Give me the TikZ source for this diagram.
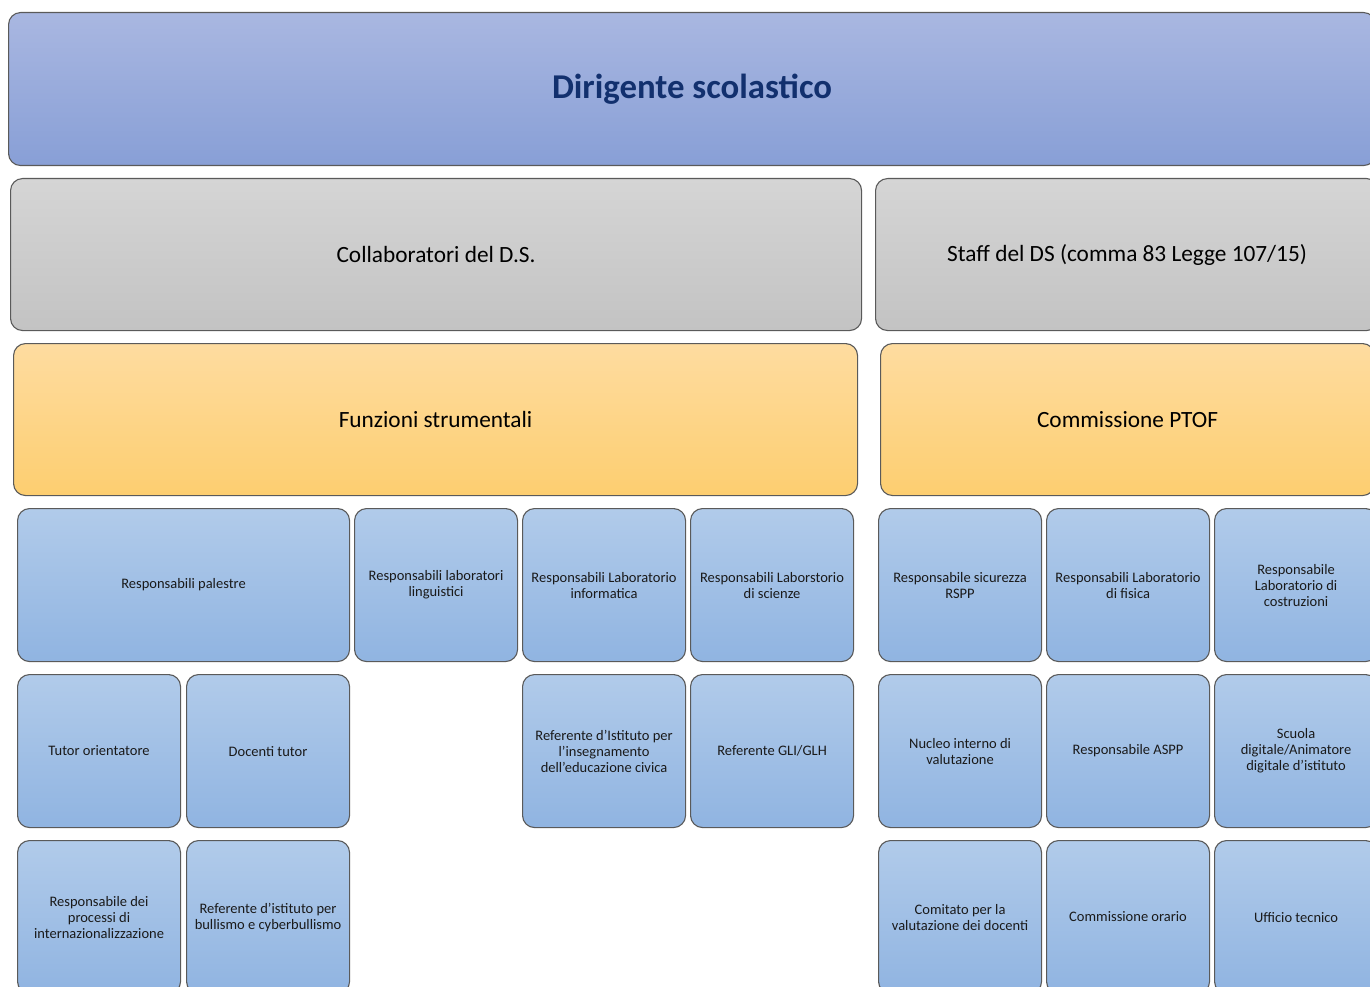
\documentclass[tikz,border=0pt]{standalone}
\usepackage{fontspec}
\setmainfont{Carlito}
\definecolor{blueTop}{HTML}{A9B7E1}
\definecolor{blueBot}{HTML}{889FD6}
\definecolor{grayTop}{HTML}{D5D5D5}
\definecolor{grayBot}{HTML}{C3C3C3}
\definecolor{orTop}{HTML}{FEDCA0}
\definecolor{orBot}{HTML}{FDCE70}
\definecolor{lbTop}{HTML}{B1CBEA}
\definecolor{lbBot}{HTML}{90B4E1}
\definecolor{edge}{HTML}{5A5A5A}
\definecolor{titlecol}{HTML}{12306E}
\definecolor{txt}{HTML}{1A1A1A}
\begin{document}
\begin{tikzpicture}[x=1pt,y=-1pt,
  base/.style={draw=edge, line width=1.1pt, rounded corners=12pt, align=center,
    inner sep=0pt, anchor=north west},
  topbox/.style={base, top color=blueTop, bottom color=blueBot,
    minimum width=1367pt, minimum height=153pt,
    font=\fontsize{34.8}{40}\selectfont\bfseries, text=titlecol},
  graybox/.style={base, top color=grayTop, bottom color=grayBot,
    minimum height=152pt, font=\fontsize{23.3}{28}\selectfont, text=black},
  orbox/.style={base, top color=orTop, bottom color=orBot,
    minimum height=152pt, font=\fontsize{23.3}{28}\selectfont, text=black},
  smallbox/.style={base, top color=lbTop, bottom color=lbBot,
    minimum width=163pt, minimum height=153pt,
    font=\fontsize{14.5}{16}\selectfont, text=txt},
]
\useasboundingbox (0,0) rectangle (1370,987);
\clip (0,0) rectangle (1370,987);

\node[topbox] (ds) at (8,12) {Dirigente scolastico};

\node[graybox, minimum width=503pt] (staff) at (875,178) {Staff del DS (comma 83 Legge 107/15)};
\node[graybox, minimum width=851pt] (collab) at (10,178) {Collaboratori del D.S.};

\node[orbox, minimum width=844pt] (funz) at (13,343) {Funzioni strumentali};
\node[orbox, minimum width=494pt] (ptof) at (880,343) {Commissione PTOF};

% row 1
\node[smallbox, minimum width=332pt] (palestre) at (17,508) {Responsabili palestre};
\node[smallbox] (ling) at (354,508) {Responsabili laboratori\\linguistici};
\node[smallbox] (inf) at (522,508) {Responsabili Laboratorio\\informatica};
\node[smallbox] (sci) at (690,508) {Responsabili Laborstorio\\di scienze};
\node[smallbox] (rspp) at (878,508) {Responsabile sicurezza\\RSPP};
\node[smallbox] (fis) at (1046,508) {Responsabili Laboratorio\\di fisica};
\node[smallbox] (costr) at (1214,508) {Responsabile\\Laboratorio di\\costruzioni};

% row 2
\node[smallbox] (tutor) at (17,674) {Tutor orientatore};
\node[smallbox] (doctutor) at (186,674) {Docenti tutor};
\node[smallbox] (civica) at (522,674) {Referente d’Istituto per\\l’insegnamento\\dell’educazione civica};
\node[smallbox] (gli) at (690,674) {Referente GLI/GLH};
\node[smallbox] (nucleo) at (878,674) {Nucleo interno di\\valutazione};
\node[smallbox] (aspp) at (1046,674) {Responsabile ASPP};
\node[smallbox] (digit) at (1214,674) {Scuola\\digitale/Animatore\\digitale d'istituto};

% row 3
\node[smallbox] (intern) at (17,840) {Responsabile dei\\processi di\\internazionalizzazione};
\node[smallbox] (bull) at (186,840) {Referente d’istituto per\\bullismo e cyberbullismo};
\node[smallbox] (comit) at (878,840) {Comitato per la\\valutazione dei docenti};
\node[smallbox] (orario) at (1046,840) {Commissione orario};
\node[smallbox] (uff) at (1214,840) {Ufficio tecnico};
\end{tikzpicture}
\end{document}
